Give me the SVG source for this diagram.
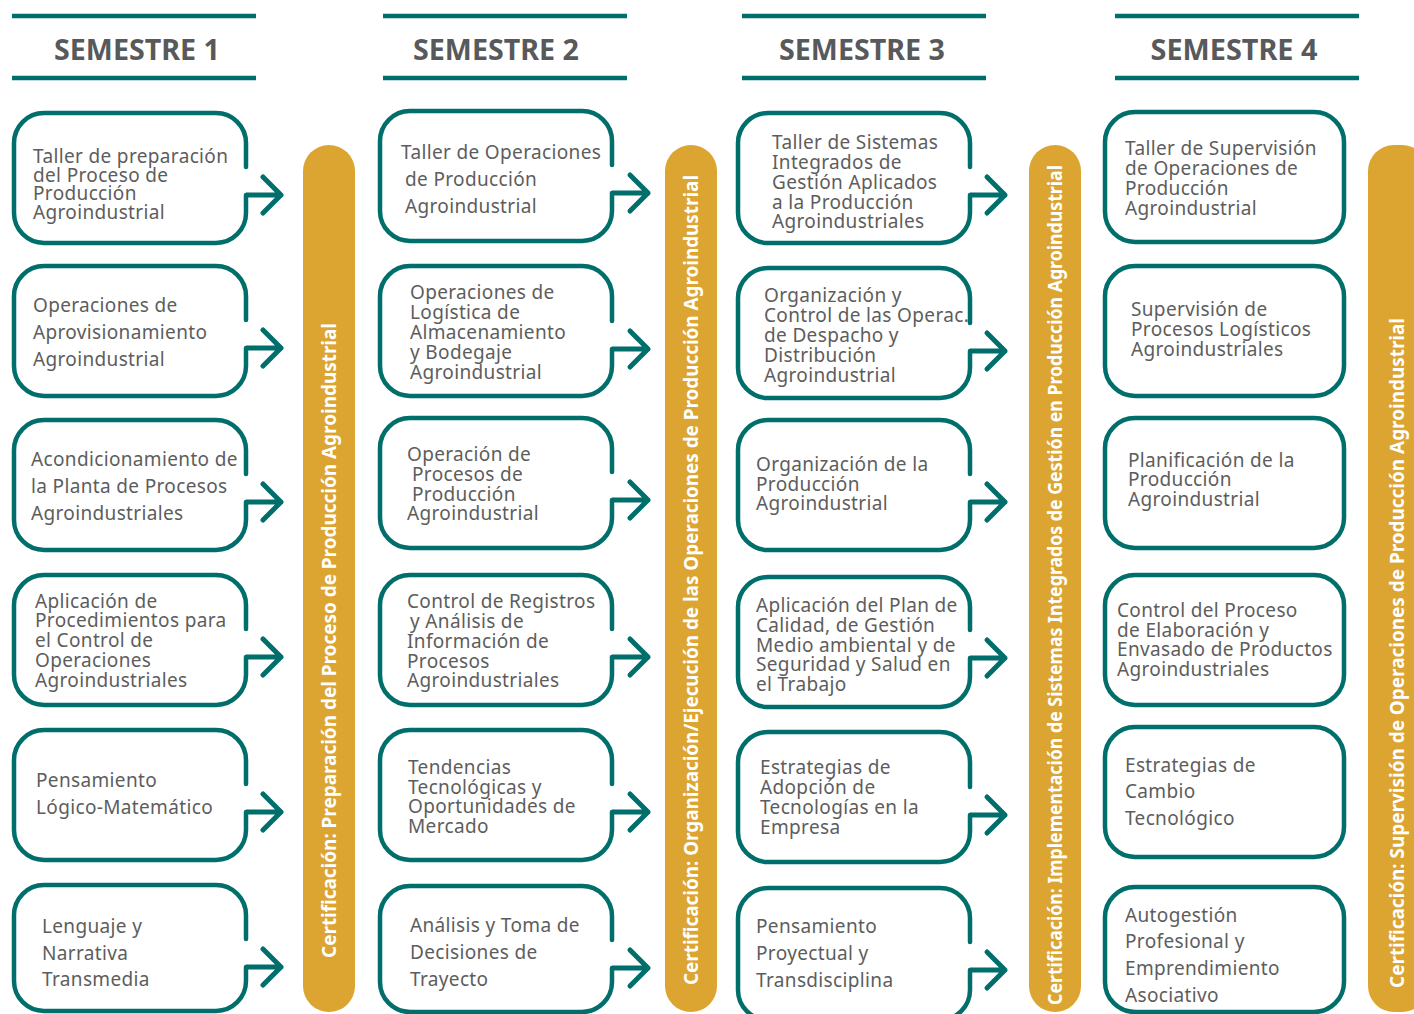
<svg xmlns="http://www.w3.org/2000/svg" width="1414" height="1014" viewBox="0 0 1414 1014">
<style>
.hl{stroke:#006e6b;stroke-width:4.5}
.ht{font-family:"Noto Sans","Open Sans",sans-serif;font-weight:bold;font-size:28px;fill:#58595b;text-anchor:middle}
.bx{fill:#fff;stroke:#006e6b;stroke-width:4.5;stroke-linejoin:round;stroke-linecap:round}
.ar{fill:none;stroke:#006e6b;stroke-width:5;stroke-linecap:round;stroke-linejoin:round}
.t{font-family:"Noto Sans","Open Sans",sans-serif;font-size:19px;letter-spacing:0.35px;fill:#5d5d5d}
.bar{fill:#dca531}
.bt{font-family:"Noto Sans","Open Sans",sans-serif;font-weight:bold;font-size:19px;fill:#fff}
</style>
<rect width="1414" height="1014" fill="#fff"/>
<g id="headers">
<line class="hl" x1="12" y1="16" x2="256" y2="16"/><line class="hl" x1="12" y1="78" x2="256" y2="78"/>
<text class="ht" x="137" y="60" textLength="166" lengthAdjust="spacingAndGlyphs">SEMESTRE 1</text>
<line class="hl" x1="383" y1="16" x2="627" y2="16"/><line class="hl" x1="383" y1="78" x2="627" y2="78"/>
<text class="ht" x="496" y="60" textLength="166" lengthAdjust="spacingAndGlyphs">SEMESTRE 2</text>
<line class="hl" x1="742" y1="16" x2="986" y2="16"/><line class="hl" x1="742" y1="78" x2="986" y2="78"/>
<text class="ht" x="862" y="60" textLength="166" lengthAdjust="spacingAndGlyphs">SEMESTRE 3</text>
<line class="hl" x1="1115" y1="16" x2="1359" y2="16"/><line class="hl" x1="1115" y1="78" x2="1359" y2="78"/>
<text class="ht" x="1234" y="60" textLength="167" lengthAdjust="spacingAndGlyphs">SEMESTRE 4</text>
</g>
<g id="bars">
<g id="cert1"><rect class="bar" x="303" y="145" width="52" height="867" rx="26"/>
<text class="bt" transform="translate(336,958) rotate(-90)" textLength="635" lengthAdjust="spacingAndGlyphs">Certificación: Preparación del Proceso de Producción Agroindustrial</text></g>
<g id="cert2"><rect class="bar" x="665" y="145" width="52" height="867" rx="26"/>
<text class="bt" transform="translate(698,985) rotate(-90)" textLength="810" lengthAdjust="spacingAndGlyphs">Certificación: Organización/Ejecución de las Operaciones de Producción Agroindustrial</text></g>
<g id="cert3"><rect class="bar" x="1029" y="145" width="52" height="867" rx="26"/>
<text class="bt" transform="translate(1062,1005) rotate(-90)" textLength="840" lengthAdjust="spacingAndGlyphs">Certificación: Implementación de Sistemas Integrados de Gestión en Producción Agroindustrial</text></g>
<g id="cert4"><rect class="bar" x="1368" y="145" width="60" height="867" rx="26"/>
<text class="bt" transform="translate(1404,988) rotate(-90)" textLength="670" lengthAdjust="spacingAndGlyphs">Certificación: Supervisión de Operaciones de Producción Agroindustrial</text></g>
</g>
<g id="connectors">
<path class="ar" d="M246 195H281M263 177L281 195L263 213"/>
<path class="ar" d="M246 348H281M263 330L281 348L263 366"/>
<path class="ar" d="M246 502H281M263 484L281 502L263 520"/>
<path class="ar" d="M246 657H281M263 639L281 657L263 675"/>
<path class="ar" d="M246 812H281M263 794L281 812L263 830"/>
<path class="ar" d="M246 967H281M263 949L281 967L263 985"/>
<path class="ar" d="M612 193H648M630 175L648 193L630 211"/>
<path class="ar" d="M612 349H648M630 331L648 349L630 367"/>
<path class="ar" d="M612 500H648M630 482L648 500L630 518"/>
<path class="ar" d="M612 657H648M630 639L648 657L630 675"/>
<path class="ar" d="M612 812H648M630 794L648 812L630 830"/>
<path class="ar" d="M612 968H648M630 950L648 968L630 986"/>
<path class="ar" d="M970 195H1005M987 177L1005 195L987 213"/>
<path class="ar" d="M970 351H1005M987 333L1005 351L987 369"/>
<path class="ar" d="M970 502H1005M987 484L1005 502L987 520"/>
<path class="ar" d="M970 658H1005M987 640L1005 658L987 676"/>
<path class="ar" d="M970 815H1005M987 797L1005 815L987 833"/>
<path class="ar" d="M970 970H1005M987 952L1005 970L987 988"/>
</g>
<g id="s1">
<g id="s1n1"><path class="bx" d="M246 167V143A30 30 0 0 0 216 113H44A30 30 0 0 0 14 143V213A30 30 0 0 0 44 243H216A30 30 0 0 0 246 213V195"/>
<text class="t"><tspan x="33" y="163">Taller de preparación</tspan><tspan x="33" y="182">del Proceso de</tspan><tspan x="33" y="200">Producción</tspan><tspan x="33" y="219">Agroindustrial</tspan></text></g>
<g id="s1n2"><path class="bx" d="M246 320V296A30 30 0 0 0 216 266H44A30 30 0 0 0 14 296V366A30 30 0 0 0 44 396H216A30 30 0 0 0 246 366V348"/>
<text class="t"><tspan x="33" y="312">Operaciones de</tspan><tspan x="33" y="339">Aprovisionamiento</tspan><tspan x="33" y="366">Agroindustrial</tspan></text></g>
<g id="s1n3"><path class="bx" d="M246 474V450A30 30 0 0 0 216 420H44A30 30 0 0 0 14 450V520A30 30 0 0 0 44 550H216A30 30 0 0 0 246 520V502"/>
<text class="t"><tspan x="31" y="466">Acondicionamiento de</tspan><tspan x="31" y="493">la Planta de Procesos</tspan><tspan x="31" y="520">Agroindustriales</tspan></text></g>
<g id="s1n4"><path class="bx" d="M246 629V605A30 30 0 0 0 216 575H44A30 30 0 0 0 14 605V675A30 30 0 0 0 44 705H216A30 30 0 0 0 246 675V657"/>
<text class="t"><tspan x="35" y="608">Aplicación de</tspan><tspan x="35" y="627">Procedimientos para</tspan><tspan x="35" y="647">el Control de</tspan><tspan x="35" y="667">Operaciones</tspan><tspan x="35" y="687">Agroindustriales</tspan></text></g>
<g id="s1n5"><path class="bx" d="M246 784V760A30 30 0 0 0 216 730H44A30 30 0 0 0 14 760V830A30 30 0 0 0 44 860H216A30 30 0 0 0 246 830V812"/>
<text class="t"><tspan x="36" y="787">Pensamiento</tspan><tspan x="36" y="814">Lógico-Matemático</tspan></text></g>
<g id="s1n6"><path class="bx" d="M246 939V915A30 30 0 0 0 216 885H44A30 30 0 0 0 14 915V981A30 30 0 0 0 44 1011H216A30 30 0 0 0 246 981V967"/>
<text class="t"><tspan x="42" y="933">Lenguaje y</tspan><tspan x="42" y="960">Narrativa</tspan><tspan x="42" y="986">Transmedia</tspan></text></g>
</g>
<g id="s2">
<g id="s2n1"><path class="bx" d="M612 165V141A30 30 0 0 0 582 111H410A30 30 0 0 0 380 141V211A30 30 0 0 0 410 241H582A30 30 0 0 0 612 211V193"/>
<text class="t"><tspan x="401" y="159">Taller de Operaciones</tspan><tspan x="405" y="186">de Producción</tspan><tspan x="405" y="213">Agroindustrial</tspan></text></g>
<g id="s2n2"><path class="bx" d="M612 321V296A30 30 0 0 0 582 266H410A30 30 0 0 0 380 296V366A30 30 0 0 0 410 396H582A30 30 0 0 0 612 366V349"/>
<text class="t"><tspan x="410" y="299">Operaciones de</tspan><tspan x="410" y="319">Logística de</tspan><tspan x="410" y="339">Almacenamiento</tspan><tspan x="410" y="359">y Bodegaje</tspan><tspan x="410" y="379">Agroindustrial</tspan></text></g>
<g id="s2n3"><path class="bx" d="M612 472V448A30 30 0 0 0 582 418H410A30 30 0 0 0 380 448V518A30 30 0 0 0 410 548H582A30 30 0 0 0 612 518V500"/>
<text class="t"><tspan x="407" y="461">Operación de</tspan><tspan x="412" y="481">Procesos de</tspan><tspan x="412" y="501">Producción</tspan><tspan x="407" y="520">Agroindustrial</tspan></text></g>
<g id="s2n4"><path class="bx" d="M612 629V605A30 30 0 0 0 582 575H410A30 30 0 0 0 380 605V675A30 30 0 0 0 410 705H582A30 30 0 0 0 612 675V657"/>
<text class="t"><tspan x="407" y="608">Control de Registros</tspan><tspan x="410" y="628">y Análisis de</tspan><tspan x="407" y="648">Información de</tspan><tspan x="407" y="668">Procesos</tspan><tspan x="407" y="687">Agroindustriales</tspan></text></g>
<g id="s2n5"><path class="bx" d="M612 784V760A30 30 0 0 0 582 730H410A30 30 0 0 0 380 760V830A30 30 0 0 0 410 860H582A30 30 0 0 0 612 830V812"/>
<text class="t"><tspan x="408" y="774">Tendencias</tspan><tspan x="408" y="794">Tecnológicas y</tspan><tspan x="408" y="813">Oportunidades de</tspan><tspan x="408" y="833">Mercado</tspan></text></g>
<g id="s2n6"><path class="bx" d="M612 940V916A30 30 0 0 0 582 886H410A30 30 0 0 0 380 916V982A30 30 0 0 0 410 1012H582A30 30 0 0 0 612 982V968"/>
<text class="t"><tspan x="410" y="932">Análisis y Toma de</tspan><tspan x="410" y="959">Decisiones de</tspan><tspan x="410" y="986">Trayecto</tspan></text></g>
</g>
<g id="s3">
<g id="s3n1"><path class="bx" d="M970 167V143A30 30 0 0 0 940 113H768A30 30 0 0 0 738 143V213A30 30 0 0 0 768 243H940A30 30 0 0 0 970 213V195"/>
<text class="t"><tspan x="772" y="149">Taller de Sistemas</tspan><tspan x="772" y="169">Integrados de</tspan><tspan x="772" y="189">Gestión Aplicados</tspan><tspan x="772" y="209">a la Producción</tspan><tspan x="772" y="228">Agroindustriales</tspan></text></g>
<g id="s3n2"><path class="bx" d="M970 323V298A30 30 0 0 0 940 268H768A30 30 0 0 0 738 298V368A30 30 0 0 0 768 398H940A30 30 0 0 0 970 368V351"/>
<text class="t"><tspan x="764" y="302">Organización y</tspan><tspan x="764" y="322">Control de las Operac.</tspan><tspan x="764" y="342">de Despacho y</tspan><tspan x="764" y="362">Distribución</tspan><tspan x="764" y="382">Agroindustrial</tspan></text></g>
<g id="s3n3"><path class="bx" d="M970 474V450A30 30 0 0 0 940 420H768A30 30 0 0 0 738 450V520A30 30 0 0 0 768 550H940A30 30 0 0 0 970 520V502"/>
<text class="t"><tspan x="756" y="471">Organización de la</tspan><tspan x="756" y="491">Producción</tspan><tspan x="756" y="510">Agroindustrial</tspan></text></g>
<g id="s3n4"><path class="bx" d="M970 630V607A30 30 0 0 0 940 577H768A30 30 0 0 0 738 607V677A30 30 0 0 0 768 707H940A30 30 0 0 0 970 677V658"/>
<text class="t"><tspan x="756" y="612">Aplicación del Plan de</tspan><tspan x="756" y="632">Calidad, de Gestión</tspan><tspan x="756" y="652">Medio ambiental y de</tspan><tspan x="756" y="671">Seguridad y Salud en</tspan><tspan x="756" y="691">el Trabajo</tspan></text></g>
<g id="s3n5"><path class="bx" d="M970 787V762A30 30 0 0 0 940 732H768A30 30 0 0 0 738 762V832A30 30 0 0 0 768 862H940A30 30 0 0 0 970 832V815"/>
<text class="t"><tspan x="760" y="774">Estrategias de</tspan><tspan x="760" y="794">Adopción de</tspan><tspan x="760" y="814">Tecnologías en la</tspan><tspan x="760" y="834">Empresa</tspan></text></g>
<g id="s3n6"><path class="bx" d="M970 942V918A30 30 0 0 0 940 888H768A30 30 0 0 0 738 918V990A30 30 0 0 0 768 1020H940A30 30 0 0 0 970 990V970"/>
<text class="t"><tspan x="756" y="933">Pensamiento</tspan><tspan x="756" y="960">Proyectual y</tspan><tspan x="756" y="987">Transdisciplina</tspan></text></g>
</g>
<g id="s4">
<g id="s4n1"><rect class="bx" x="1105" y="112" width="239" height="130" rx="30"/>
<text class="t"><tspan x="1125" y="155">Taller de Supervisión</tspan><tspan x="1125" y="175">de Operaciones de</tspan><tspan x="1125" y="195">Producción</tspan><tspan x="1125" y="215">Agroindustrial</tspan></text></g>
<g id="s4n2"><rect class="bx" x="1105" y="266" width="239" height="130" rx="30"/>
<text class="t"><tspan x="1131" y="316">Supervisión de</tspan><tspan x="1131" y="336">Procesos Logísticos</tspan><tspan x="1131" y="356">Agroindustriales</tspan></text></g>
<g id="s4n3"><rect class="bx" x="1105" y="418" width="239" height="130" rx="30"/>
<text class="t"><tspan x="1128" y="467">Planificación de la</tspan><tspan x="1128" y="486">Producción</tspan><tspan x="1128" y="506">Agroindustrial</tspan></text></g>
<g id="s4n4"><rect class="bx" x="1105" y="575" width="239" height="130" rx="30"/>
<text class="t"><tspan x="1117" y="617">Control del Proceso</tspan><tspan x="1117" y="637">de Elaboración y</tspan><tspan x="1117" y="656">Envasado de Productos</tspan><tspan x="1117" y="676">Agroindustriales</tspan></text></g>
<g id="s4n5"><rect class="bx" x="1105" y="727" width="239" height="130" rx="30"/>
<text class="t"><tspan x="1125" y="772">Estrategias de</tspan><tspan x="1125" y="798">Cambio</tspan><tspan x="1125" y="825">Tecnológico</tspan></text></g>
<g id="s4n6"><rect class="bx" x="1105" y="887" width="239" height="125" rx="30"/>
<text class="t"><tspan x="1125" y="922">Autogestión</tspan><tspan x="1125" y="948">Profesional y</tspan><tspan x="1125" y="975">Emprendimiento</tspan><tspan x="1125" y="1002">Asociativo</tspan></text></g>
</g>
</svg>
